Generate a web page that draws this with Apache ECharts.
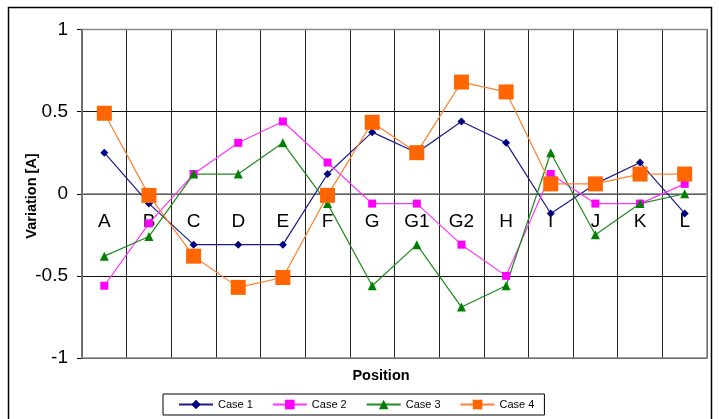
<!DOCTYPE html>
<html>
  <head>
    <meta charset="utf-8">
    <title>Variation by position</title>
    <style>
      html, body { margin: 0; padding: 0; background: #fff; }
      #chart { width: 719px; height: 419px; }
    </style>
    <script src="https://cdn.jsdelivr.net/npm/echarts@6/dist/echarts.min.js"></script>
  </head>
  <body>
    <div id="chart"></div>
    <script type="text/javascript">
      var positions = ['A', 'B', 'C', 'D', 'E', 'F', 'G', 'G1', 'G2', 'H', 'I', 'J', 'K', 'L'];
      var case1 = [0.25, -0.06, -0.31, -0.31, -0.31, 0.12, 0.375, 0.25, 0.44, 0.31, -0.12, 0.06, 0.19, -0.12];
      var case2 = [-0.56, -0.18, 0.12, 0.31, 0.44, 0.19, -0.06, -0.06, -0.31, -0.5, 0.12, -0.06, -0.06, 0.06];
      var case3 = [-0.38, -0.26, 0.12, 0.12, 0.31, -0.06, -0.56, -0.31, -0.69, -0.56, 0.25, -0.25, -0.06, 0.0];
      var case4 = [0.49, -0.01, -0.38, -0.57, -0.51, -0.01, 0.435, 0.25, 0.68, 0.62, 0.06, 0.06, 0.12, 0.12];
      var yTicks = { min: -1, max: 1, step: 0.5 };

      var font = 'Arial, "Liberation Sans", sans-serif';
      var myChart = echarts.init(document.getElementById('chart'));

      // plot box, used to lift the category axis up to the zero line
      var plotTop = 29.5, plotBottom = 358;
      var zeroLift = (plotBottom - plotTop) * (0 - yTicks.min) / (yTicks.max - yTicks.min);

      function line(name, data, lineColor, markColor, symbol, size) {
        return {
          name: name,
          type: 'line',
          data: data,
          symbol: symbol,
          symbolSize: size,
          showAllSymbol: true,
          lineStyle: { color: lineColor, width: 1.2 },
          itemStyle: { color: markColor, borderWidth: 0 }
        };
      }

      myChart.setOption({
        animation: false,
        grid: { left: 82, right: 12, top: plotTop, bottom: 419 - plotBottom },
        legend: {
          left: 163, top: 394,
          padding: [5, 10, 5, 15],
          borderColor: '#000', borderWidth: 1,
          itemWidth: 34, itemHeight: 12, itemGap: 19,
          textStyle: { fontFamily: font, fontSize: 11, color: '#000' },
          data: ['Case 1', 'Case 2', 'Case 3', 'Case 4']
        },
        xAxis: {
          type: 'category',
          data: positions,
          boundaryGap: true,
          offset: -zeroLift,
          axisLine: { onZero: false, lineStyle: { color: '#7a7a7a', width: 1.5 } },
          axisTick: { show: true, length: 5, inside: false, lineStyle: { color: '#444' } },
          axisLabel: { margin: 19, fontFamily: font, fontSize: 19, color: '#000' },
          splitLine: { show: true, lineStyle: { color: '#222', width: 1 } }
        },
        yAxis: {
          type: 'value',
          min: yTicks.min, max: yTicks.max, interval: yTicks.step,
          axisLine: { show: true, lineStyle: { color: '#000', width: 1.5 } },
          axisTick: { show: true, length: 5, lineStyle: { color: '#000' } },
          axisLabel: { margin: 14, fontFamily: font, fontSize: 19, color: '#000' },
          splitLine: { show: true, lineStyle: { color: '#111', width: 1 } }
        },
        graphic: [
          {
            type: 'rect', silent: true, z: -1,
            shape: { x: 8.5, y: 7.5, width: 703, height: 430 },
            style: { fill: 'none', stroke: '#000', lineWidth: 1.5 }
          },
          {
            type: 'rect', silent: true, z: 10,
            shape: { x: 82, y: plotTop, width: 625, height: plotBottom - plotTop },
            style: { fill: 'none', stroke: '#888', lineWidth: 1.5 }
          },
          {
            type: 'text', x: 381, y: 376, silent: true,
            style: { text: 'Position', fontFamily: font, fontWeight: 'bold', fontSize: 14.5, fill: '#000', align: 'center', verticalAlign: 'middle' }
          },
          {
            type: 'text', x: 32, y: 196, rotation: Math.PI / 2, silent: true,
            style: { text: 'Variation [A]', fontFamily: font, fontWeight: 'bold', fontSize: 14.5, fill: '#000', align: 'center', verticalAlign: 'middle' }
          }
        ],
        series: [
          line('Case 1', case1, '#1a1a8c', '#000080', 'diamond', 8),
          line('Case 2', case2, '#ff33ff', '#ff00ff', 'rect', 8),
          line('Case 3', case3, '#1f8a1f', '#008000', 'triangle', 9),
          line('Case 4', case4, '#ff8030', '#ff6600', 'rect', 15)
        ]
      });
    </script>
  </body>
</html>
